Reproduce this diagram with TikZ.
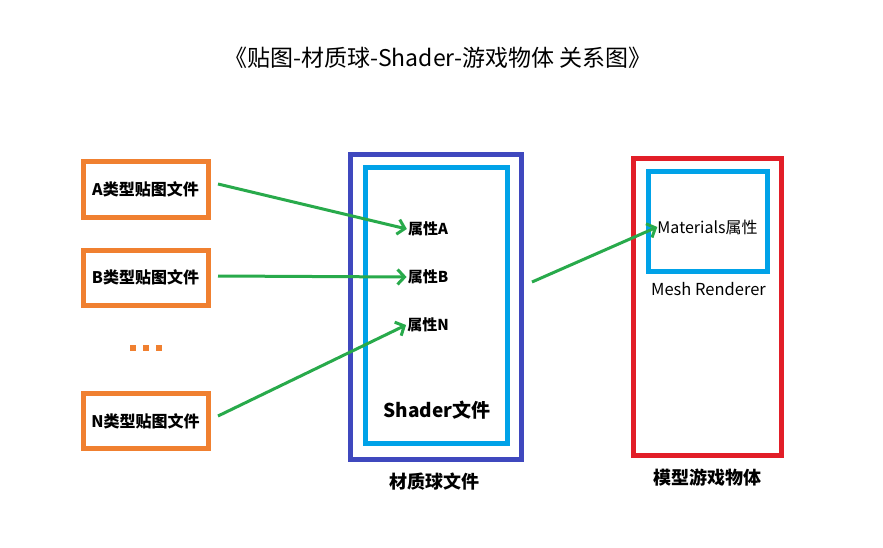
\documentclass[tikz,border=0pt]{standalone}
\usepackage{fontspec}
\setmainfont{Noto Sans CJK SC}
\usetikzlibrary{arrows.meta}
\definecolor{orangeP}{RGB}{240,128,48}
\definecolor{indigoP}{RGB}{63,72,190}
\definecolor{cyanP}{RGB}{0,162,232}
\definecolor{redP}{RGB}{226,30,40}
\definecolor{greenP}{RGB}{40,170,75}
\begin{document}
\begin{tikzpicture}[x=1pt,y=-1pt,
  texbox/.style={draw=orangeP,line width=5pt,minimum width=125pt,minimum height=55pt,inner sep=0pt,font=\fontsize{16}{18}\selectfont\bfseries},
  frame/.style={line width=5pt,inner sep=0pt},
  prop/.style={font=\fontsize{15}{17}\selectfont\bfseries,inner sep=1pt},
  captxt/.style={font=\fontsize{18}{20}\selectfont\bfseries,inner sep=0pt},
  conn/.style={draw=greenP,line width=3pt,-{Straight Barb[length=7pt,width=15pt]}}]
\useasboundingbox[fill=white] (0,0) rectangle (883,548);
\node[font=\fontsize{23}{26}\selectfont] (title) at (438,58) {《贴图-材质球-Shader-游戏物体 关系图》};
% texture boxes
\node[texbox] (A) at (145.5,189.5) {A类型贴图文件};
\node[texbox] (B) at (145.5,277.5) {B类型贴图文件};
\node[texbox] (N) at (145.5,421) {N类型贴图文件};
\foreach \x in {133,146,159}
  \fill[orangeP] (\x-2.6,345.4) rectangle (\x+2.6,350.6);
% material
\node[frame,draw=indigoP,minimum width=171pt,minimum height=304pt] (mat) at (435.5,307) {};
\node[frame,draw=cyanP,minimum width=142pt,minimum height=275pt] (shader) at (436,305.5) {};
\node[prop] (pA) at (428,229) {属性A};
\node[prop] (pB) at (428,277) {属性B};
\node[prop] (pN) at (428,325) {属性N};
\node[font=\fontsize{19}{21}\selectfont\bfseries] (shtxt) at (437,410) {Shader文件};
\node[captxt] (matcap) at (434,482) {材质球文件};
% game object
\node[frame,draw=redP,minimum width=148pt,minimum height=296pt] (go) at (707,307) {};
\node[frame,draw=cyanP,minimum width=119pt,minimum height=99pt] (mr) at (707.5,221.5) {};
\node[font=\fontsize{16}{18}\selectfont,inner sep=0pt] (mats) at (707.5,227) {Materials属性};
\node[font=\fontsize{16.5}{18}\selectfont] (mrtxt) at (708.5,289) {Mesh Renderer};
\node[captxt] (gocap) at (707,478) {模型游戏物体};
% connectors
\coordinate (aS) at (218,184);
\coordinate (bS) at (218,276);
\coordinate (nS) at (218,416);
\coordinate (mS) at (532,282);
\draw[conn] (aS) -- (pA.west);
\draw[conn] (bS) -- (pB.west);
\draw[conn] (nS) -- (pN.west);
\draw[conn] (mS) -- (mats.west);
\end{tikzpicture}
\end{document}
